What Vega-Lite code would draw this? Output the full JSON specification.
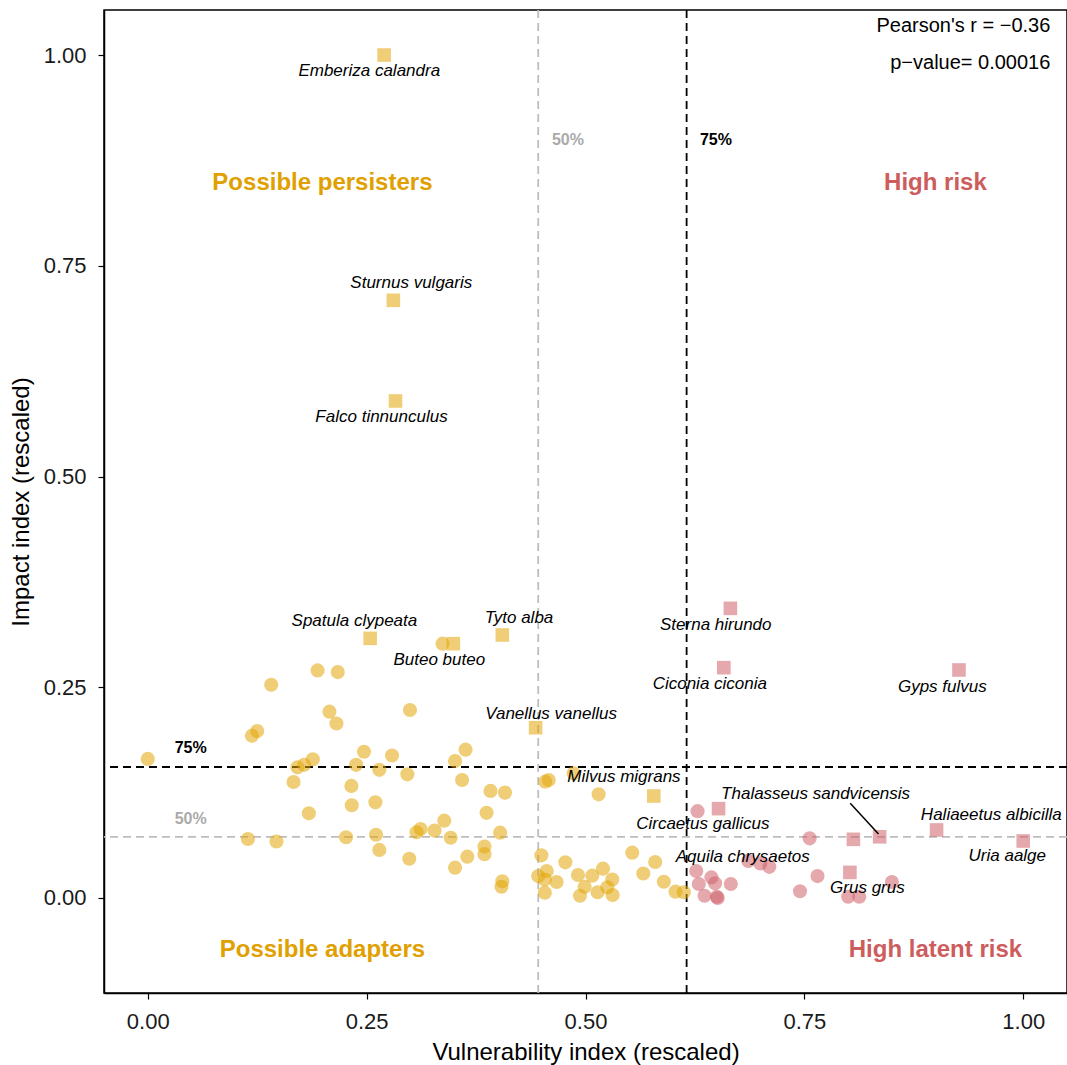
{
  "$schema": "https://vega.github.io/schema/vega-lite/v6.json",
  "width": 963,
  "height": 983,
  "autosize": {"type": "none"},
  "padding": {"left": 104, "top": 10, "right": 0, "bottom": 72},
  "background": "white",
  "config": {
    "view": {"stroke": "black", "strokeWidth": 1.5},
    "font": "Liberation Sans",
    "axis": {
      "grid": false,
      "domainColor": "black",
      "domainWidth": 1.5,
      "tickColor": "black",
      "tickWidth": 1.2,
      "tickSize": 6,
      "labelFont": "Liberation Sans",
      "labelFontSize": 22,
      "labelColor": "#1a1a1a",
      "titleFont": "Liberation Sans",
      "titleFontSize": 24,
      "titleFontWeight": "normal",
      "titleColor": "black"
    }
  },
  "datasets": {
    "species": [
      {"species": "", "vul": 0.000, "imp": 0.165, "shape": "circle"},
      {"species": "", "vul": 0.141, "imp": 0.253, "shape": "circle"},
      {"species": "", "vul": 0.194, "imp": 0.270, "shape": "circle"},
      {"species": "", "vul": 0.217, "imp": 0.268, "shape": "circle"},
      {"species": "", "vul": 0.2075, "imp": 0.221, "shape": "circle"},
      {"species": "", "vul": 0.2155, "imp": 0.207, "shape": "circle"},
      {"species": "", "vul": 0.119, "imp": 0.1925, "shape": "circle"},
      {"species": "", "vul": 0.125, "imp": 0.198, "shape": "circle"},
      {"species": "", "vul": 0.247, "imp": 0.1735, "shape": "circle"},
      {"species": "", "vul": 0.279, "imp": 0.169, "shape": "circle"},
      {"species": "", "vul": 0.1885, "imp": 0.1645, "shape": "circle"},
      {"species": "", "vul": 0.1786, "imp": 0.158, "shape": "circle"},
      {"species": "", "vul": 0.171, "imp": 0.155, "shape": "circle"},
      {"species": "", "vul": 0.238, "imp": 0.158, "shape": "circle"},
      {"species": "", "vul": 0.2645, "imp": 0.152, "shape": "circle"},
      {"species": "", "vul": 0.1665, "imp": 0.1376, "shape": "circle"},
      {"species": "", "vul": 0.2326, "imp": 0.133, "shape": "circle"},
      {"species": "", "vul": 0.260, "imp": 0.1135, "shape": "circle"},
      {"species": "", "vul": 0.233, "imp": 0.110, "shape": "circle"},
      {"species": "", "vul": 0.184, "imp": 0.1004, "shape": "circle"},
      {"species": "", "vul": 0.1144, "imp": 0.070, "shape": "circle"},
      {"species": "", "vul": 0.147, "imp": 0.067, "shape": "circle"},
      {"species": "", "vul": 0.2265, "imp": 0.072, "shape": "circle"},
      {"species": "", "vul": 0.2607, "imp": 0.075, "shape": "circle"},
      {"species": "", "vul": 0.2645, "imp": 0.057, "shape": "circle"},
      {"species": "", "vul": 0.2995, "imp": 0.223, "shape": "circle"},
      {"species": "", "vul": 0.3367, "imp": 0.3017, "shape": "circle"},
      {"species": "", "vul": 0.363, "imp": 0.176, "shape": "circle"},
      {"species": "", "vul": 0.351, "imp": 0.1625, "shape": "circle"},
      {"species": "", "vul": 0.2965, "imp": 0.1467, "shape": "circle"},
      {"species": "", "vul": 0.359, "imp": 0.140, "shape": "circle"},
      {"species": "", "vul": 0.454, "imp": 0.138, "shape": "circle"},
      {"species": "", "vul": 0.458, "imp": 0.140, "shape": "circle"},
      {"species": "", "vul": 0.4865, "imp": 0.148, "shape": "circle"},
      {"species": "", "vul": 0.515, "imp": 0.123, "shape": "circle"},
      {"species": "", "vul": 0.3915, "imp": 0.127, "shape": "circle"},
      {"species": "", "vul": 0.408, "imp": 0.125, "shape": "circle"},
      {"species": "", "vul": 0.387, "imp": 0.101, "shape": "circle"},
      {"species": "", "vul": 0.3387, "imp": 0.0917, "shape": "circle"},
      {"species": "", "vul": 0.3117, "imp": 0.0818, "shape": "circle"},
      {"species": "", "vul": 0.307, "imp": 0.078, "shape": "circle"},
      {"species": "", "vul": 0.3276, "imp": 0.080, "shape": "circle"},
      {"species": "", "vul": 0.346, "imp": 0.0715, "shape": "circle"},
      {"species": "", "vul": 0.4025, "imp": 0.0775, "shape": "circle"},
      {"species": "", "vul": 0.2987, "imp": 0.0466, "shape": "circle"},
      {"species": "", "vul": 0.365, "imp": 0.049, "shape": "circle"},
      {"species": "", "vul": 0.351, "imp": 0.036, "shape": "circle"},
      {"species": "", "vul": 0.3846, "imp": 0.061, "shape": "circle"},
      {"species": "", "vul": 0.3846, "imp": 0.052, "shape": "circle"},
      {"species": "", "vul": 0.405, "imp": 0.0198, "shape": "circle"},
      {"species": "", "vul": 0.404, "imp": 0.0134, "shape": "circle"},
      {"species": "", "vul": 0.4496, "imp": 0.0506, "shape": "circle"},
      {"species": "", "vul": 0.446, "imp": 0.026, "shape": "circle"},
      {"species": "", "vul": 0.4557, "imp": 0.032, "shape": "circle"},
      {"species": "", "vul": 0.4535, "imp": 0.022, "shape": "circle"},
      {"species": "", "vul": 0.467, "imp": 0.019, "shape": "circle"},
      {"species": "", "vul": 0.4535, "imp": 0.0063, "shape": "circle"},
      {"species": "", "vul": 0.477, "imp": 0.0423, "shape": "circle"},
      {"species": "", "vul": 0.4914, "imp": 0.0273, "shape": "circle"},
      {"species": "", "vul": 0.5077, "imp": 0.0265, "shape": "circle"},
      {"species": "", "vul": 0.520, "imp": 0.0348, "shape": "circle"},
      {"species": "", "vul": 0.5306, "imp": 0.022, "shape": "circle"},
      {"species": "", "vul": 0.499, "imp": 0.0134, "shape": "circle"},
      {"species": "", "vul": 0.4937, "imp": 0.0027, "shape": "circle"},
      {"species": "", "vul": 0.5138, "imp": 0.0068, "shape": "circle"},
      {"species": "", "vul": 0.525, "imp": 0.0127, "shape": "circle"},
      {"species": "", "vul": 0.531, "imp": 0.0036, "shape": "circle"},
      {"species": "", "vul": 0.5534, "imp": 0.0538, "shape": "circle"},
      {"species": "", "vul": 0.5796, "imp": 0.0427, "shape": "circle"},
      {"species": "", "vul": 0.566, "imp": 0.029, "shape": "circle"},
      {"species": "", "vul": 0.5895, "imp": 0.0193, "shape": "circle"},
      {"species": "", "vul": 0.6028, "imp": 0.0075, "shape": "circle"},
      {"species": "", "vul": 0.6123, "imp": 0.0068, "shape": "circle"},
      {"species": "", "vul": 0.628, "imp": 0.103, "shape": "circle"},
      {"species": "", "vul": 0.6265, "imp": 0.032, "shape": "circle"},
      {"species": "", "vul": 0.6294, "imp": 0.0166, "shape": "circle"},
      {"species": "", "vul": 0.6438, "imp": 0.0244, "shape": "circle"},
      {"species": "", "vul": 0.648, "imp": 0.0174, "shape": "circle"},
      {"species": "", "vul": 0.666, "imp": 0.0166, "shape": "circle"},
      {"species": "", "vul": 0.636, "imp": 0.0027, "shape": "circle"},
      {"species": "", "vul": 0.650, "imp": 0.0015, "shape": "circle"},
      {"species": "", "vul": 0.651, "imp": 0.000, "shape": "circle"},
      {"species": "", "vul": 0.686, "imp": 0.044, "shape": "circle"},
      {"species": "", "vul": 0.6997, "imp": 0.041, "shape": "circle"},
      {"species": "", "vul": 0.710, "imp": 0.037, "shape": "circle"},
      {"species": "", "vul": 0.745, "imp": 0.008, "shape": "circle"},
      {"species": "", "vul": 0.765, "imp": 0.026, "shape": "circle"},
      {"species": "", "vul": 0.800, "imp": 0.0015, "shape": "circle"},
      {"species": "", "vul": 0.8127, "imp": 0.0015, "shape": "circle"},
      {"species": "", "vul": 0.850, "imp": 0.019, "shape": "circle"},
      {"species": "", "vul": 0.756, "imp": 0.0708, "shape": "circle"},
      {"species": "Emberiza calandra", "vul": 0.270, "imp": 1.000, "shape": "square"},
      {"species": "Sturnus vulgaris", "vul": 0.2805, "imp": 0.709, "shape": "square"},
      {"species": "Falco tinnunculus", "vul": 0.283, "imp": 0.5896, "shape": "square"},
      {"species": "Spatula clypeata", "vul": 0.254, "imp": 0.308, "shape": "square"},
      {"species": "Buteo buteo", "vul": 0.349, "imp": 0.3017, "shape": "square"},
      {"species": "Tyto alba", "vul": 0.405, "imp": 0.312, "shape": "square"},
      {"species": "Vanellus vanellus", "vul": 0.443, "imp": 0.202, "shape": "square"},
      {"species": "Milvus migrans", "vul": 0.578, "imp": 0.121, "shape": "square"},
      {"species": "Sterna hirundo", "vul": 0.6655, "imp": 0.3436, "shape": "square"},
      {"species": "Ciconia ciconia", "vul": 0.658, "imp": 0.2732, "shape": "square"},
      {"species": "Gyps fulvus", "vul": 0.9266, "imp": 0.2705, "shape": "square"},
      {"species": "Circaetus gallicus", "vul": 0.652, "imp": 0.106, "shape": "square"},
      {"species": "Thalasseus sandvicensis", "vul": 0.836, "imp": 0.0726, "shape": "square"},
      {"species": "Haliaeetus albicilla", "vul": 0.901, "imp": 0.0807, "shape": "square"},
      {"species": "Uria aalge", "vul": 1.000, "imp": 0.0676, "shape": "square"},
      {"species": "Aquila chrysaetos", "vul": 0.806, "imp": 0.0696, "shape": "square"},
      {"species": "Grus grus", "vul": 0.802, "imp": 0.0304, "shape": "square"}
    ],
    "labels": [
      {"species": "Emberiza calandra", "lx": 0.253, "ly": 0.981},
      {"species": "Sturnus vulgaris", "lx": 0.301, "ly": 0.7295},
      {"species": "Falco tinnunculus", "lx": 0.267, "ly": 0.5706},
      {"species": "Spatula clypeata", "lx": 0.236, "ly": 0.3286},
      {"species": "Tyto alba", "lx": 0.424, "ly": 0.332},
      {"species": "Buteo buteo", "lx": 0.333, "ly": 0.2823},
      {"species": "Sterna hirundo", "lx": 0.6488, "ly": 0.3238},
      {"species": "Ciconia ciconia", "lx": 0.642, "ly": 0.2539},
      {"species": "Gyps fulvus", "lx": 0.9076, "ly": 0.2503},
      {"species": "Vanellus vanellus", "lx": 0.4607, "ly": 0.2183},
      {"species": "Milvus migrans", "lx": 0.5439, "ly": 0.1435},
      {"species": "Thalasseus sandvicensis", "lx": 0.7628, "ly": 0.1234},
      {"species": "Haliaeetus albicilla", "lx": 0.9635, "ly": 0.0985},
      {"species": "Circaetus gallicus", "lx": 0.634, "ly": 0.0878},
      {"species": "Aquila chrysaetos", "lx": 0.6796, "ly": 0.0486},
      {"species": "Uria aalge", "lx": 0.9818, "ly": 0.0498},
      {"species": "Grus grus", "lx": 0.822, "ly": 0.0119}
    ],
    "leaders": [
      {"x1": 0.8024, "y1": 0.1123, "x2": 0.8347, "y2": 0.0759}
    ],
    "vlines": [
      {"v": 0.446, "lvl": "50"},
      {"v": 0.6155, "lvl": "75"}
    ],
    "hlines": [
      {"h": 0.0724, "lvl": "50"},
      {"h": 0.1554, "lvl": "75"}
    ],
    "quadrants": [
      {"text": "Possible persisters", "qx": 0.1995, "qy": 0.848, "q": "low"},
      {"text": "High risk", "qx": 0.8997, "qy": 0.848, "q": "high"},
      {"text": "Possible adapters", "qx": 0.1995, "qy": -0.0617, "q": "low"},
      {"text": "High latent risk", "qx": 0.8997, "qy": -0.0617, "q": "high"}
    ],
    "pct": [
      {"text": "50%", "px": 0.480, "py": 0.899, "lvl": "50"},
      {"text": "75%", "px": 0.649, "py": 0.899, "lvl": "75"},
      {"text": "50%", "px": 0.049, "py": 0.0937, "lvl": "50"},
      {"text": "75%", "px": 0.049, "py": 0.178, "lvl": "75"}
    ],
    "stats": [
      {"text": "Pearson's r = \u22120.36", "sx": 1.031, "sy": 1.034},
      {"text": "p\u2212value= 0.00016", "sx": 1.031, "sy": 0.990}
    ]
  },
  "layer": [
    {
      "data": {"name": "vlines"},
      "mark": {"type": "rule", "strokeDash": [8, 5], "strokeWidth": 1.8},
      "encoding": {
        "x": {"field": "v", "type": "quantitative"},
        "color": {"field": "lvl", "type": "nominal", "scale": {"domain": ["50", "75"], "range": ["#BDBDBD", "black"]}, "legend": null}
      }
    },
    {
      "data": {"name": "hlines"},
      "mark": {"type": "rule", "strokeDash": [8, 5], "strokeWidth": 1.8},
      "encoding": {
        "y": {"field": "h", "type": "quantitative"},
        "color": {"field": "lvl", "type": "nominal", "scale": {"domain": ["50", "75"], "range": ["#BDBDBD", "black"]}, "legend": null}
      }
    },
    {
      "data": {"name": "species"},
      "transform": [{"calculate": "datum.vul > 0.6135 ? 'high' : 'low'", "as": "group"}],
      "mark": {"type": "point", "filled": true, "opacity": 0.55, "strokeWidth": 0},
      "encoding": {
        "x": {
          "field": "vul", "type": "quantitative",
          "scale": {"domain": [-0.05, 1.05], "nice": false, "zero": false},
          "axis": {"values": [0, 0.25, 0.5, 0.75, 1], "format": ".2f", "title": "Vulnerability index (rescaled)", "labelPadding": 12, "titlePadding": 8}
        },
        "y": {
          "field": "imp", "type": "quantitative",
          "scale": {"domain": [-0.1127, 1.0534], "nice": false, "zero": false},
          "axis": {"values": [0, 0.25, 0.5, 0.75, 1], "format": ".2f", "title": "Impact index (rescaled)", "labelPadding": 12, "titlePadding": 10}
        },
        "color": {"field": "group", "type": "nominal", "scale": {"domain": ["low", "high"], "range": ["#E1A507", "#D0606A"]}, "legend": null},
        "shape": {"field": "shape", "type": "nominal", "scale": {"domain": ["circle", "square"], "range": ["circle", "square"]}, "legend": null},
        "size": {"field": "shape", "type": "nominal", "scale": {"domain": ["circle", "square"], "range": [200, 185]}, "legend": null}
      }
    },
    {
      "data": {"name": "leaders"},
      "mark": {"type": "rule", "color": "black", "strokeWidth": 1.5},
      "encoding": {
        "x": {"field": "x1", "type": "quantitative"},
        "y": {"field": "y1", "type": "quantitative"},
        "x2": {"field": "x2"},
        "y2": {"field": "y2"}
      }
    },
    {
      "data": {"name": "labels"},
      "mark": {"type": "text", "fontStyle": "italic", "fontSize": 17, "color": "black", "align": "center", "baseline": "middle", "font": "Liberation Sans"},
      "encoding": {
        "x": {"field": "lx", "type": "quantitative"},
        "y": {"field": "ly", "type": "quantitative"},
        "text": {"field": "species"}
      }
    },
    {
      "data": {"name": "quadrants"},
      "mark": {"type": "text", "fontWeight": "bold", "fontSize": 24, "align": "center", "baseline": "middle", "font": "Liberation Sans"},
      "encoding": {
        "x": {"field": "qx", "type": "quantitative"},
        "y": {"field": "qy", "type": "quantitative"},
        "text": {"field": "text"},
        "color": {"field": "q", "type": "nominal", "scale": {"domain": ["low", "high"], "range": ["#E0A000", "#CD5C5C"]}, "legend": null}
      }
    },
    {
      "data": {"name": "pct"},
      "mark": {"type": "text", "fontWeight": "bold", "fontSize": 16, "align": "center", "baseline": "middle", "font": "Liberation Sans"},
      "encoding": {
        "x": {"field": "px", "type": "quantitative"},
        "y": {"field": "py", "type": "quantitative"},
        "text": {"field": "text"},
        "color": {"field": "lvl", "type": "nominal", "scale": {"domain": ["50", "75"], "range": ["#AAAAAA", "black"]}, "legend": null}
      }
    },
    {
      "data": {"name": "stats"},
      "mark": {"type": "text", "fontSize": 20, "align": "right", "baseline": "middle", "color": "black", "font": "Liberation Sans"},
      "encoding": {
        "x": {"field": "sx", "type": "quantitative"},
        "y": {"field": "sy", "type": "quantitative"},
        "text": {"field": "text"}
      }
    }
  ],
  "resolve": {"scale": {"color": "independent"}}
}
